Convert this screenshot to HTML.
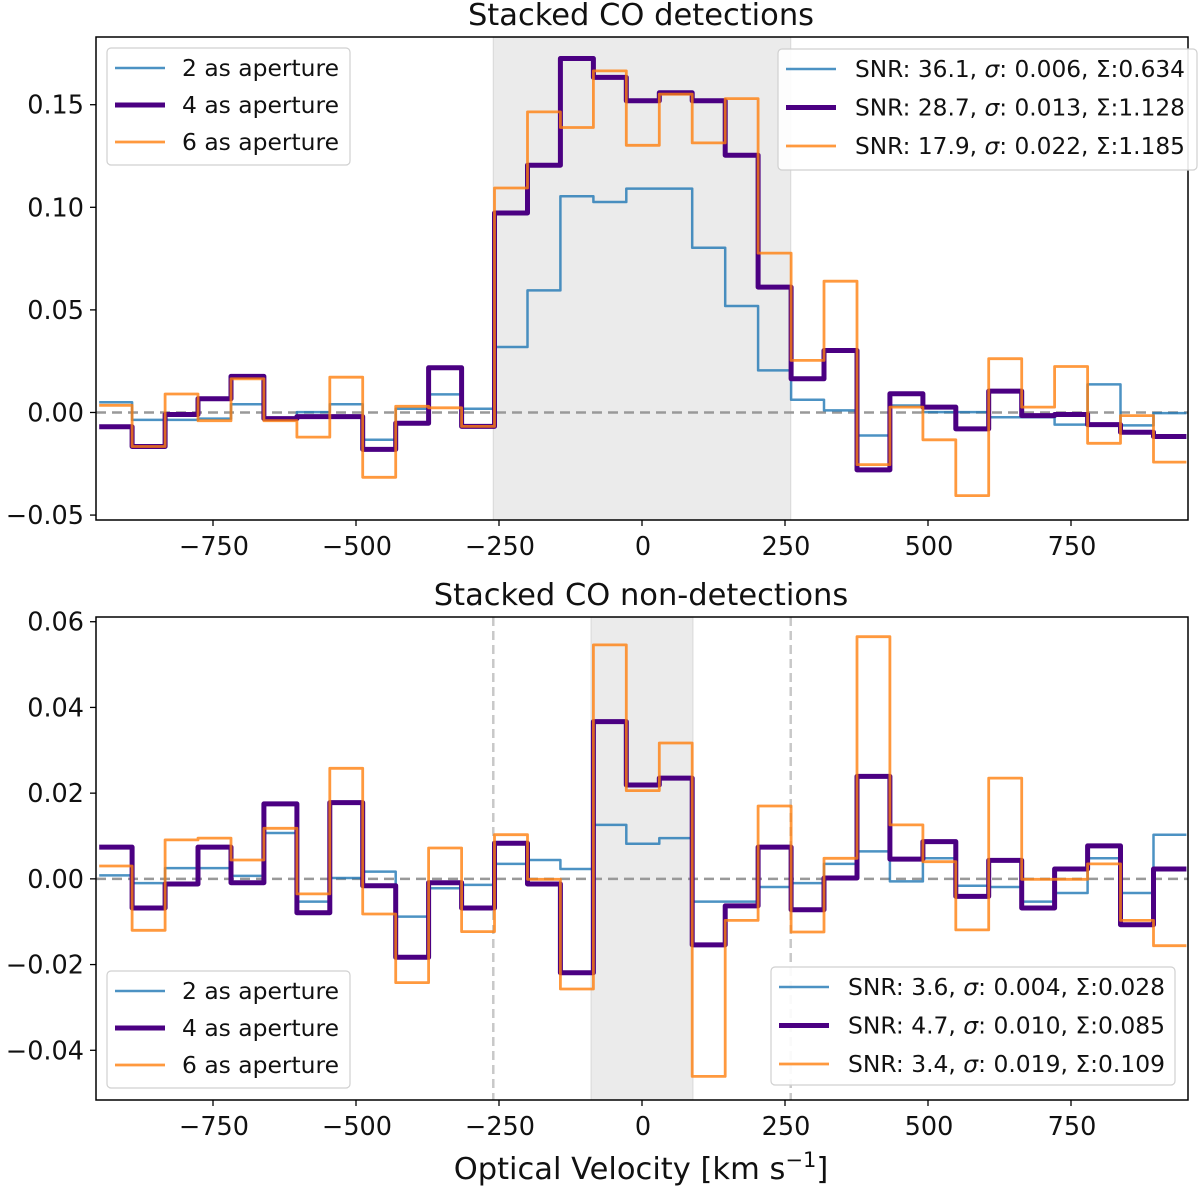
<!DOCTYPE html>
<html><head><meta charset="utf-8"><style>
html,body{margin:0;padding:0;background:#fff;}
svg text{font-family:"DejaVu Sans","Liberation Sans",sans-serif;fill:#111;}
</style></head><body>
<svg id="chart" width="1200" height="1186" viewBox="0 0 1200 1186" xmlns="http://www.w3.org/2000/svg"></svg>
<script>
const binStart = -949;
const binWidth = 57.6;
const xTicks = [-750, -500, -250, 0, 250, 500, 750];
const xTickLabels = ["−750", "−500", "−250", "0", "250", "500", "750"];
const topYTicks = [-0.05, 0, 0.05, 0.10, 0.15];
const topYTickLabels = ["−0.05", "0.00", "0.05", "0.10", "0.15"];
const botYTicks = [-0.04, -0.02, 0, 0.02, 0.04, 0.06];
const botYTickLabels = ["−0.04", "−0.02", "0.00", "0.02", "0.04", "0.06"];
const topBlue = [0.005,-0.0036,-0.0036,-0.003,0.004,-0.003,0.0002,0.004,-0.0133,0.0018,0.0088,0.0018,0.0319,0.0595,0.1054,0.1026,0.1091,0.1091,0.0803,0.0519,0.0205,0.0062,0.001,-0.0112,0.0034,0.0002,0.0002,-0.0023,-0.0023,-0.0059,0.0137,-0.0063,-0.0003];
const topPurple = [-0.007,-0.0166,-0.001,0.0067,0.0176,-0.003,-0.002,-0.002,-0.018,-0.0052,0.0218,-0.0068,0.0972,0.1205,0.1725,0.1633,0.1519,0.1558,0.1519,0.1254,0.0611,0.0164,0.0302,-0.028,0.0091,0.0026,-0.008,0.0104,-0.0015,-0.001,-0.0059,-0.0096,-0.0117];
const topOrange = [0.0035,-0.0166,0.009,-0.004,0.0164,-0.004,-0.012,0.0172,-0.0316,0.003,0.0023,-0.0068,0.1094,0.1465,0.1389,0.1665,0.1302,0.1551,0.1314,0.153,0.0777,0.0254,0.064,-0.0254,0.0026,-0.0133,-0.0405,0.0262,0.0026,0.0224,-0.015,-0.0015,-0.0242];
const botBlue = [0.0008,-0.001,0.0025,0.0025,0.0007,0.0107,-0.0053,0.0002,0.0017,-0.0088,-0.0022,-0.0014,0.0035,0.0044,0.0023,0.0126,0.0082,0.0095,-0.0053,-0.0053,-0.0019,-0.001,0.0035,0.0064,-0.0006,0.0048,-0.0016,-0.0019,-0.0053,-0.0033,0.0048,-0.0033,0.0103];
const botPurple = [0.0074,-0.0068,-0.0012,0.0074,-0.0009,0.0175,-0.0079,0.0178,-0.0016,-0.0183,-0.0009,-0.0068,0.0083,-0.0012,-0.0219,0.0367,0.0219,0.0235,-0.0154,-0.0063,0.0074,-0.0072,0.0002,0.0239,0.0046,0.0087,-0.0041,0.0043,-0.0068,0.0023,0.0077,-0.0107,0.0023];
const botOrange = [0.003,-0.012,0.0091,0.0095,0.0044,0.0118,-0.0035,0.0258,-0.0082,-0.0242,0.0072,-0.0123,0.0103,-0.0001,-0.0257,0.0546,0.0206,0.0317,-0.0461,-0.0097,0.017,-0.0124,0.0048,0.0565,0.0126,0.004,-0.0119,0.0235,-0.0001,-0.0001,0.0035,-0.0097,-0.0156];
const topSNR = ["36.1","28.7","17.9"];
const topSigma = ["0.006","0.013","0.022"];
const topSum = ["0.634","1.128","1.185"];
const botSNR = ["3.6","4.7","3.4"];
const botSigma = ["0.004","0.010","0.019"];
const botSum = ["0.028","0.085","0.109"];
const apLabels = ["2 as aperture","4 as aperture","6 as aperture"];

const NS="http://www.w3.org/2000/svg";
const svg=document.getElementById('chart');
function mk(tag,attrs,parent,txt){const e=document.createElementNS(NS,tag);for(const k in attrs)e.setAttribute(k,attrs[k]);if(txt!==undefined)e.textContent=txt;(parent||svg).appendChild(e);return e;}
const X0=96,X1=1188;
function xs(v){return 642+v*0.572;}
const colors=["rgba(31,119,180,0.8)","#4b0082","rgba(255,127,14,0.8)"];
const widths=[2.5,5,2.8];

function panel(name,top,bottom,ymin,ymax,yTicks,yLabels,series,shade,vlines,title,apLeg,apY,snr,sig,sum,snrBox){
  const g=mk('g',{});
  
  
  const ys=v=>bottom-(v-ymin)/(ymax-ymin)*(bottom-top);
  const sh=mk('rect',{x:xs(shade[0]),y:top,width:xs(shade[1])-xs(shade[0]),height:bottom-top,fill:'#ebebeb',stroke:'#d8d8d8','stroke-width':1},g);
  
  
  vlines.forEach(v=>{const l=mk('line',{x1:xs(v),x2:xs(v),y1:top,y2:bottom,stroke:'#c8c8c8','stroke-width':2.5,'stroke-dasharray':'9,5'},g);
    
    });
  const z=mk('line',{x1:X0,x2:X1,y1:ys(0),y2:ys(0),stroke:'#999','stroke-width':2.5,'stroke-dasharray':'10,6'},g);
  
  
  const sn=['series-2as','series-4as','series-6as'];
  series.forEach((arr,si)=>{
    let d='';
    arr.forEach((v,i)=>{const xa=xs(binStart+i*binWidth),xb=xs(binStart+(i+1)*binWidth),y=ys(v);d+=(i===0?'M':'L')+xa.toFixed(1)+','+y.toFixed(1)+'L'+xb.toFixed(1)+','+y.toFixed(1);});
    const p=mk('path',{d:d,fill:'none',stroke:colors[si],'stroke-width':widths[si],'stroke-linejoin':'round'},g);
    
    
  });
  const fr=mk('rect',{x:X0,y:top,width:X1-X0,height:bottom-top,fill:'none',stroke:'#000','stroke-width':1.5},g);
  
  
  yTicks.forEach((v,i)=>{mk('line',{x1:X0-6,x2:X0,y1:ys(v),y2:ys(v),stroke:'#000','stroke-width':1.3},g);
    const t=mk('text',{x:84,y:ys(v)+9,'text-anchor':'end','font-size':25.5},g,yLabels[i]);
    
    });
  xTicks.forEach((v,i)=>{mk('line',{x1:xs(v),x2:xs(v),y1:bottom,y2:bottom+6,stroke:'#000','stroke-width':1.3},g);
    const t=mk('text',{x:xs(v)+1,y:bottom+35,'text-anchor':'middle','font-size':25.5},g,xTickLabels[i]);
    
    });
  const tt=mk('text',{x:641,y:top-12,'text-anchor':'middle','font-size':30.5},g,title);
  
  
  const lg=mk('g',{},g);
  
  
  mk('rect',{x:apLeg[0],y:apLeg[1],width:243,height:117,rx:4,fill:'rgba(255,255,255,0.85)',stroke:'#d0d0d0','stroke-width':1.2},lg);
  apLabels.forEach((s,i)=>{const y=apY+i*37;mk('line',{x1:apLeg[0]+8,x2:apLeg[0]+58,y1:y,y2:y,stroke:colors[i],'stroke-width':widths[i]},lg);
    const t=mk('text',{x:apLeg[0]+75,y:y+8,'font-size':23.5,textLength:157,lengthAdjust:'spacingAndGlyphs'},lg,s);
    
    });
  const sg=mk('g',{},g);
  
  
  mk('rect',{x:snrBox[0],y:snrBox[1],width:snrBox[2],height:snrBox[3],rx:4,fill:'rgba(255,255,255,0.9)',stroke:'#d0d0d0','stroke-width':1.2},sg);
  snr.forEach((s,i)=>{const y=snrBox[1]+20+i*38.5;mk('line',{x1:snrBox[0]+8,x2:snrBox[0]+58,y1:y,y2:y,stroke:colors[i],'stroke-width':widths[i]},sg);
    const t=mk('text',{x:snrBox[0]+77,y:y+8,'font-size':23,textLength:snrBox[4],lengthAdjust:'spacingAndGlyphs'},sg);
    
    
    t.appendChild(document.createTextNode('SNR: '+s+', '));
    mk('tspan',{'font-style':'italic'},t,'σ');
    t.appendChild(document.createTextNode(': '+sig[i]+', Σ:'+sum[i]));});
}
panel('top-panel-detections',37,520,-0.0524,0.183,topYTicks,topYTickLabels,[topBlue,topPurple,topOrange],[-260,260],[],'Stacked CO detections',[107,48],68,topSNR,topSigma,topSum,[778,49,419,121,330]);
panel('bottom-panel-non-detections',617,1100,-0.0516,0.0611,botYTicks,botYTickLabels,[botBlue,botPurple,botOrange],[-89,89],[-260,260],'Stacked CO non-detections',[107,971],991,botSNR,botSigma,botSum,[771,967,404,118,317]);
const xl=mk('text',{x:641,y:1179,'text-anchor':'middle','font-size':30.5},svg);


xl.appendChild(document.createTextNode('Optical Velocity [km s'));
mk('tspan',{dy:-12,'font-size':21},xl,'−1');
mk('tspan',{dy:12},xl,']');
</script>
</body></html>
